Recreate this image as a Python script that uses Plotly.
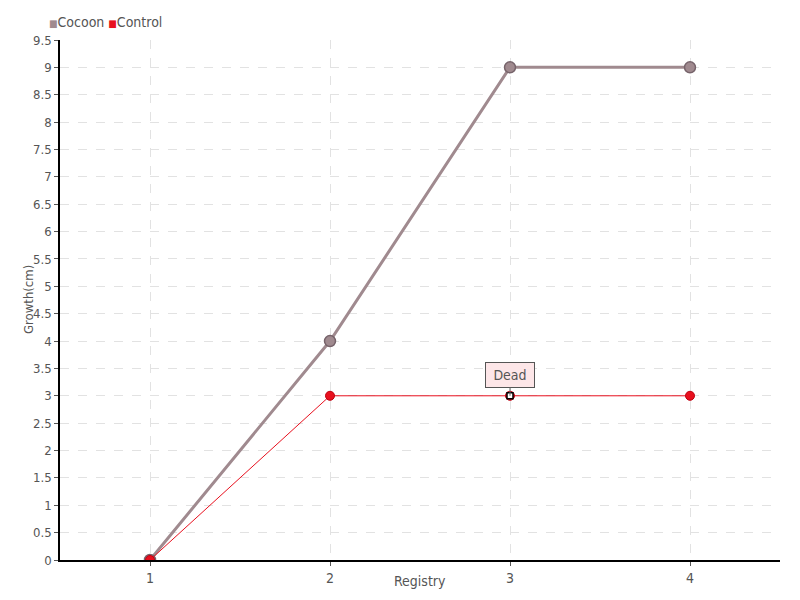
import plotly.graph_objects as go

registry = [1, 2, 3, 4]
cocoon = [0, 4, 9, 9]
control = [0, 3, 3, 3]
y_ticks = [0, 0.5, 1, 1.5, 2, 2.5, 3, 3.5, 4, 4.5, 5, 5.5, 6, 6.5, 7, 7.5, 8, 8.5, 9, 9.5]
dead_point = (3, 3)
dead_label = "Dead"
x_title = "Registry"
y_title = "Growth(cm)"

FONT = "DejaVu Sans Condensed, Liberation Sans Narrow, sans-serif"
COC = "#a08a8f"
COC_DARK = "#76636a"
CTRL = "#e8101e"

fig = go.Figure()
fig.add_trace(go.Scatter(x=registry, y=cocoon, mode="lines+markers", name="Cocoon", showlegend=False,
                         line=dict(color=COC, width=3),
                         marker=dict(size=11, color=COC, line=dict(color=COC_DARK, width=1.5))))
fig.add_trace(go.Scatter(x=registry, y=control, mode="lines+markers", name="Control", showlegend=False,
                         line=dict(color=CTRL, width=1),
                         marker=dict(size=9, color=CTRL, line=dict(color="#c00010", width=1))))
fig.add_trace(go.Scatter(x=[dead_point[0]], y=[dead_point[1]], mode="markers", showlegend=False,
                         marker=dict(size=6, symbol="square", color="white",
                                     line=dict(color="black", width=1.5))))

# compact legend drawn as text
fig.add_annotation(xref="paper", yref="paper", x=0, y=1, xshift=-13, yshift=18,
                   xanchor="left", yanchor="middle", showarrow=False,
                   text=(f"<span style='color:{COC};font-size:10px'>■</span>Cocoon "
                         f"<span style='color:{CTRL};font-size:10px'>■</span>Control"),
                   font=dict(family=FONT, size=14, color="#555"))

# axis titles
fig.add_annotation(xref="paper", yref="paper", x=0.5, y=0, yshift=-21, xanchor="center",
                   yanchor="middle", showarrow=False, text=x_title,
                   font=dict(family=FONT, size=14, color="#555"))
fig.add_annotation(xref="paper", yref="paper", x=0, y=0.5, xshift=-32, xanchor="center",
                   yanchor="middle", showarrow=False, text=y_title, textangle=-90,
                   font=dict(family=FONT, size=13, color="#555"))

fig.add_annotation(x=dead_point[0], y=dead_point[1], text=dead_label, showarrow=True,
                   arrowhead=0, arrowwidth=1, arrowcolor="#666", ax=0, ay=-21,
                   width=40, height=16,
                   bgcolor="#fde6e8", bordercolor="#555", borderwidth=1, borderpad=4,
                   font=dict(family=FONT, size=14, color="#555"))

fig.update_layout(
    width=800, height=600,
    paper_bgcolor="white", plot_bgcolor="white",
    margin=dict(l=60, r=20, t=40, b=40, autoexpand=False),
    font=dict(family=FONT, size=14, color="#555"),
    showlegend=False,
    xaxis=dict(range=[0.5, 4.5], tickvals=registry, showline=True, linecolor="black",
               linewidth=1.5, ticks="outside", ticklen=4, tickcolor="#555",
               tickfont=dict(size=14),
               showgrid=True, gridcolor="#e2e2e2", griddash="dash", zeroline=False,
               automargin=False),
    yaxis=dict(range=[0, 9.5], tickvals=y_ticks, showline=True, linecolor="black",
               linewidth=1.5, ticks="outside", ticklen=4, tickcolor="#555",
               tickfont=dict(size=13),
               showgrid=True, gridcolor="#e2e2e2", griddash="dash", zeroline=False,
               automargin=False),
)
fig.write_html("out.html", config={"displayModeBar": False},
               post_script="document.body.style.margin='0';")
